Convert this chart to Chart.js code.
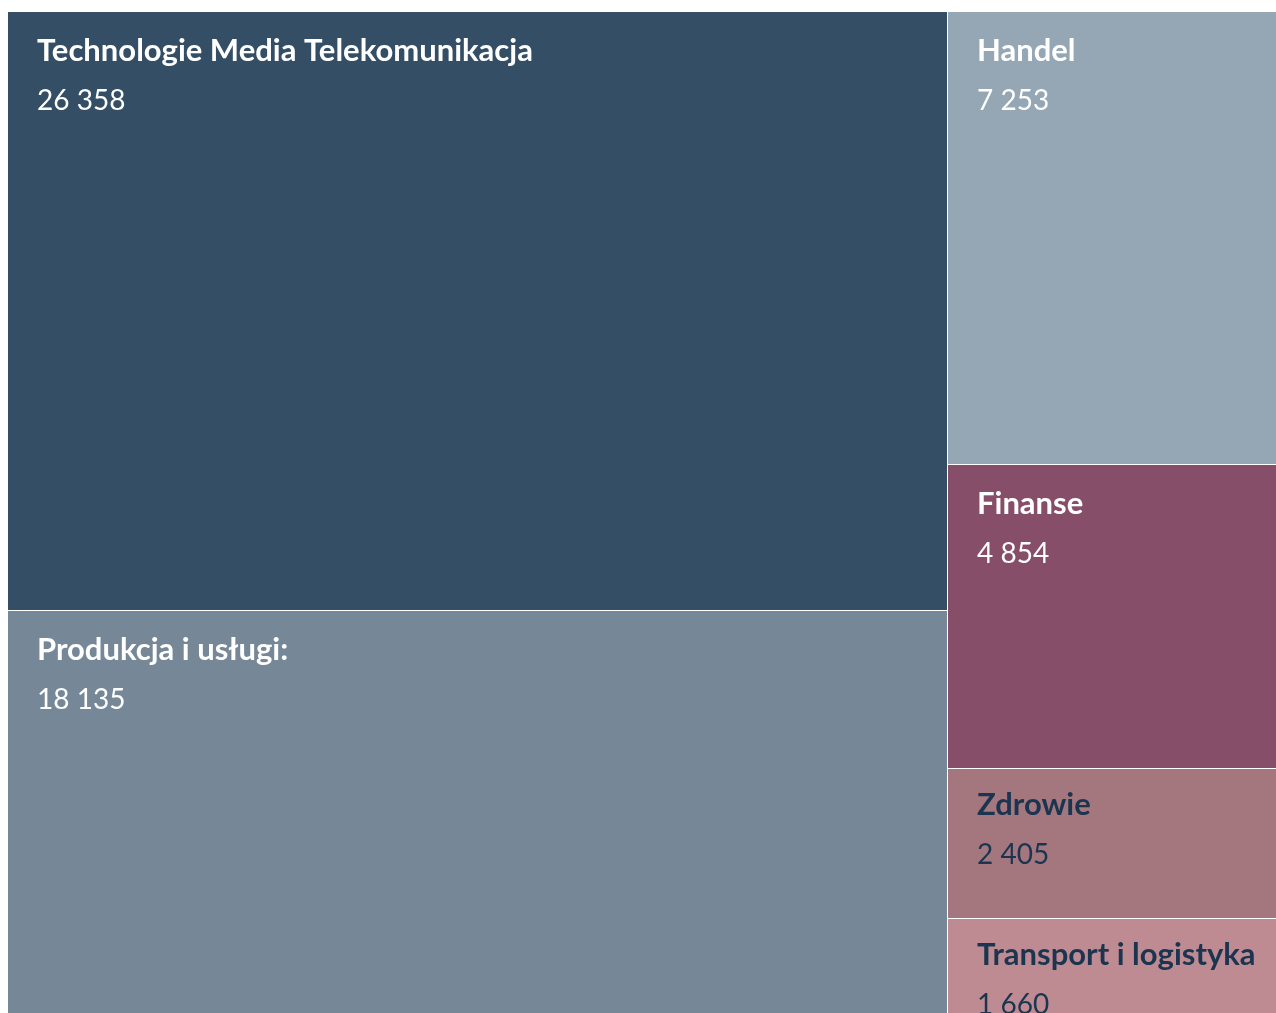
<!DOCTYPE html>
<html>
<head>
<meta charset="utf-8">
<script src="https://cdn.jsdelivr.net/npm/chart.js@4/dist/chart.umd.min.js"></script>
<style>
  html, body { margin: 0; padding: 0; background: #ffffff; overflow: hidden; }
  #wrap { position: absolute; left: 8px; top: 12px; width: 1281px; height: 1011px; }
</style>
</head>
<body>
<div id="wrap"><canvas id="tree" width="1281" height="1011"></canvas></div>
<script>
// sectors and their totals, largest first
const categories = ['Technologie Media Telekomunikacja', 'Produkcja i usługi:', 'Handel', 'Finanse', 'Zdrowie', 'Transport i logistyka'];
const values = [26358, 18135, 7253, 4854, 2405, 1660];
const fillColors = ['#334e65', '#768898', '#95a7b5', '#874e6a', '#a4767e', '#bf8b92'];
const textColors = ['#ffffff', '#ffffff', '#ffffff', '#ffffff', '#1b3550', '#1b3550'];

const PHI = (1 + Math.sqrt(5)) / 2;

const fmt = (v) => String(v).replace(/\B(?=(\d{3})+(?!\d))/g, ' ');

// squarified layout (golden ratio), in data units of the x/y scales (0..1)
const squarify = (vals, aspect) => {
    const rects = [];
    let x0 = 0, y0 = 0, x1 = 1, y1 = 1;
    let value = vals.reduce((a, b) => a + b, 0);
    let i0 = 0, i1 = 0;
    const n = vals.length;
    while (i0 < n) {
        const dx = (x1 - x0) * aspect, dy = y1 - y0;
        let sum = vals[i1++];
        let minV = sum, maxV = sum;
        const alpha = Math.max(dy / dx, dx / dy) / (value * PHI);
        let beta = sum * sum * alpha;
        let minRatio = Math.max(maxV / beta, beta / minV);
        for (; i1 < n; ++i1) {
            const v = vals[i1];
            sum += v;
            if (v < minV) minV = v;
            if (v > maxV) maxV = v;
            beta = sum * sum * alpha;
            const r = Math.max(maxV / beta, beta / minV);
            if (r > minRatio) { sum -= v; break; }
            minRatio = r;
        }
        if (dx < dy) {
            const yy = y0 + (y1 - y0) * sum / value;
            let cx = x0;
            for (let i = i0; i < i1; i++) {
                const w = (x1 - x0) * vals[i] / sum;
                rects[i] = { x0: cx, x1: cx + w, y0: y0, y1: yy };
                cx += w;
            }
            y0 = yy;
        } else {
            const xx = x0 + (x1 - x0) * sum / value;
            let cy = y0;
            for (let i = i0; i < i1; i++) {
                const h = (y1 - y0) * vals[i] / sum;
                rects[i] = { x0: x0, x1: xx, y0: cy, y1: cy + h };
                cy += h;
            }
            x0 = xx;
        }
        value -= sum;
        i0 = i1;
    }
    return rects;
};

const treemapPlugin = {
    id: 'treemapCells',
    afterDatasetsDraw(chart) {
        const { ctx, chartArea, scales: { x, y } } = chart;
        const aspect = chartArea.width / chartArea.height;
        const rects = squarify(values, aspect);
        ctx.save();
        rects.forEach((r, i) => {
            const left = Math.round(x.getPixelForValue(r.x0));
            const right = Math.round(x.getPixelForValue(r.x1));
            const top = Math.round(y.getPixelForValue(r.y0));
            const bottom = Math.round(y.getPixelForValue(r.y1));
            // 1px white gap on the right and bottom of each cell
            ctx.fillStyle = fillColors[i];
            ctx.fillRect(left, top, right - left - 1, bottom - top - 1);

            // labels sit a little higher in the short cells
            const base = top + ((bottom - top) < 200 ? 46 : 49);
            ctx.fillStyle = textColors[i];
            ctx.textBaseline = 'alphabetic';
            ctx.textAlign = 'left';
            ctx.font = 'bold 31px Lato';
            ctx.fillText(categories[i], left + 29, base);
            ctx.font = '28px Lato';
            ctx.fillText(fmt(values[i]), left + 29, base + 49);
        });
        ctx.restore();
    }
};

new Chart(document.getElementById('tree'), {
    type: 'scatter',
    data: { datasets: [{ data: [] }] },
    options: {
        responsive: false,
        animation: false,
        layout: { padding: 0 },
        scales: {
            x: { type: 'linear', min: 0, max: 1, display: false },
            y: { type: 'linear', min: 0, max: 1, reverse: true, display: false }
        },
        plugins: { legend: { display: false }, tooltip: { enabled: false } }
    },
    plugins: [treemapPlugin]
});
</script>
</body>
</html>
